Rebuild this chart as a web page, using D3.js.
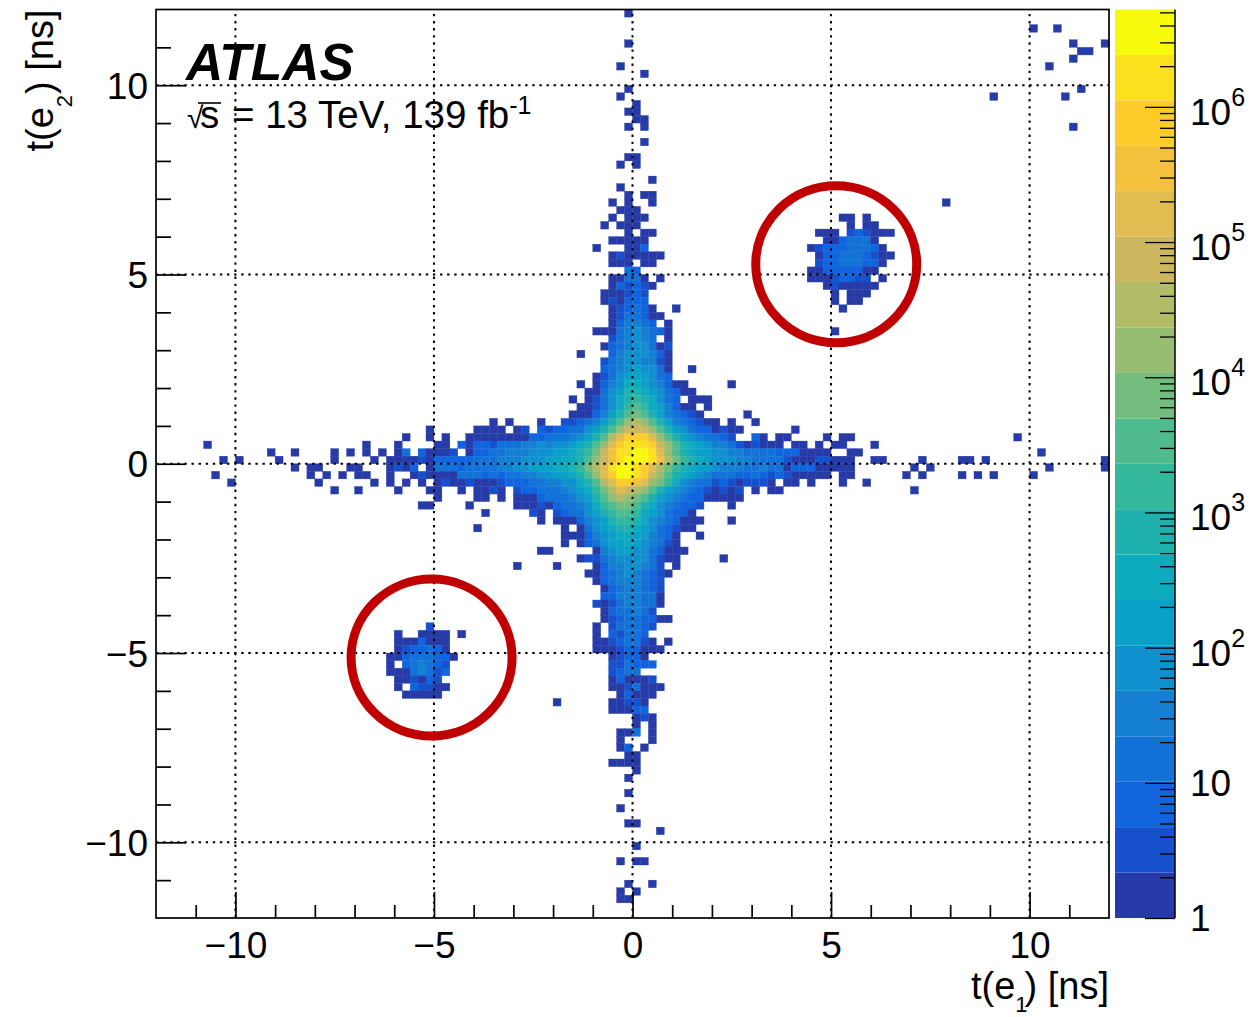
<!DOCTYPE html>
<html>
<head>
<meta charset="utf-8">
<script src="https://cdn.jsdelivr.net/npm/d3@7"></script>
<style>
  body { margin: 0; background: #fff; }
  text { font-family: "Liberation Sans", Arial, sans-serif; fill: #000; }
</style>
</head>
<body>
<svg id="chart" width="1260" height="1017"></svg>
<script>
// ROOT style colour contours, bottom band first
const bandColors = ["#273ba8", "#1650cc", "#1064de", "#1272d8", "#1580d2", "#0f91cf", "#09a1c8", "#0eabbf",
    "#1fb1ae", "#34b89c", "#51bb90", "#73bd7f", "#96bd72", "#b2bb68", "#ccb75e", "#e1bc50",
    "#f3c13c", "#fdcc2a", "#fbe01e", "#f8fa0d"];

const zMax = 5.25e6;
const majorTicks = [-10, -5, 0, 5, 10];
const minorTicks = [-11, -9, -8, -7, -6, -4, -3, -2, -1, 1, 2, 3, 4, 6, 7, 8, 9, 11];
const zDecades = [1, 10, 100, 1000, 10000, 100000, 1000000];
const zMinorFactors = [2, 3, 4, 5, 6, 7, 8, 9];
const binWidth = 0.2;

// rows of the histogram: [y bin, first x bin, band per x bin]
// bins count from t=0 in 0.2 ns steps, band is base 20, "." is an empty bin
const centreRows = [
    [18, -3, "024432.0"],
    [17, -5, "0003454320"],
    [16, -3, "134543.0"],
    [15, -4, "023455301"],
    [14, -7, "0"], [14, -3, "24555420"],
    [13, -4, "134554410"],
    [12, -4, "234565530"], [12, 7, "0"],
    [11, -5, "0135666532"],
    [10, -7, "0"], [10, -5, "024577654200"], [10, 12, "0"],
    [9, -6, "00356887653200"],
    [8, -8, "0"], [8, -6, "013578987532.000"],
    [7, -7, "0013579a9764200.0"],
    [6, -8, "0002468aba8643210"], [6, 14, "0"],
    [5, -18, "0"], [5, -16, "0"], [5, -12, "0"], [5, -9, "1123468acdca86432100.0"], [5, 15, "0"],
    [4, -26, "0"], [4, -20, "0000.01.212233568aceeeca8653220100"], [4, 20, "0"],
    [3, -29, "0"], [3, -26, "0"], [3, -24, "0"],
    [3, -21, "00000000223334568adfhhhfca86543321..20.00"], [3, 24, "0"], [3, 26, "00"],
    [2, -34, "0"], [2, -30, "0"],
    [2, -25, "00.20221333445455678acfhiiiheca8765443101000.00.0.00"], [2, 30, "0"],
    [1, -30, "03.20001.0223344455566789begiijjifca8766554433332220000..00"],
    [0, -33, "0.0000102222233344455566778acegijjjigdb9876555443333100011000"],
    [-1, -31, "0102.03332333344556667789bdfijjihfdb98766544433433022200000"],
    [-2, -28, "0100003332323344556678acfhjjiheca87654333223212100000.00"],
    [-3, -33, "0"], [-3, -31, "0"], [-3, -29, "0"],
    [-3, -27, "0.01001000122233445578adfhhgfcb97543312101110.00.0"], [-3, 26, "0"], [-3, 29, "0"],
    [-4, -30, "0"], [-4, -26, "00"], [-4, -22, "0"],
    [-4, -20, "0010.12233345679bdfedca86543210101.0.00"],
    [-5, -25, "0"], [-5, -20, "00.0"], [-5, -15, "00023334568acdcba865432200000"],
    [-6, -27, "00"], [-6, -21, "0"], [-6, -15, "000102334579abba87543221...0"],
    [-7, -19, "0"], [-7, -13, "10.12335689aa97653220"],
    [-8, -12, "0.0002456899875432000"], [-8, 12, "0"],
    [-9, -20, "0"], [-9, -9, "0.035678876532100"],
    [-10, -9, "000245677664320..0"],
    [-11, -9, "0.0235667654310"],
    [-12, -12, "00"], [-12, -5, "045665532000"],
    [-13, -7, "0113455553100"], [-13, 11, "0"],
    [-14, -15, "0"], [-14, -10, "0"], [-14, -5, "024455431.0"],
    [-15, -6, "00234543210"],
    [-16, -5, "023444321"],
    [-17, -4, "02344321"],
    [-18, -4, "22444330"]
];

const upperArmRows = [
    [59, -1, "0"], [55, -1, "0"], [52, -2, "0"], [51, 1, "0"], [49, -1, "0"], [48, -2, "0"],
    [47, 0, "0"], [46, -1, "00"], [45, 0, "00"], [44, -1, "0.0"], [42, 1, "0"],
    [40, -1, "00"], [39, -2, "0.0"], [37, 2, "0"], [36, -2, "0"],
    [35, -1, "0.00"], [34, -3, "0.0..0"], [33, -2, "000"], [32, -3, "0.000"],
    [31, -4, "0.000"], [30, -1, "0.00"], [29, -3, "00000"], [28, -5, "0...002"],
    [27, -3, "0100000"], [26, -3, "000.00"], [25, -1, "32"], [24, -3, "00330.0"],
    [23, -3, "021210"], [22, -4, "000121"], [21, -4, "010222"],
    [20, -3, "012320..0"], [19, -3, "0133200"]
];

const lowerArmRows = [
    [-19, -5, "10134433"], [-19, 3, "0"],
    [-20, -4, "0233431"],
    [-21, -4, "012332200"],
    [-22, -5, "0.133321"],
    [-23, -5, "0.21332"],
    [-24, -5, "00123310.0"],
    [-25, -5, "000122000"],
    [-26, -3, "01220"],
    [-27, -3, "113222"],
    [-28, -3, "1233"],
    [-29, -3, "020001"],
    [-30, -3, "0013000"],
    [-31, -2, "02000"],
    [-32, -10, "0"], [-32, -3, "00110"],
    [-33, -3, "00022"],
    [-34, 0, "010"],
    [-35, 0, "0.0"],
    [-36, -2, "003.0"],
    [-37, -2, "0...0"],
    [-38, -2, "02.0"],
    [-39, -1, "00"],
    [-40, -3, "0000"],
    [-41, 0, "0"],
    [-42, -1, "0"],
    [-44, -1, "0"],
    [-46, -2, "0"],
    [-48, -1, "00"],
    [-49, 3, "0"],
    [-51, 0, "0"],
    [-53, -2, "0.00"],
    [-56, -1, "0..0"],
    [-57, -2, "0.0"],
    [-58, -2, "00"]
];

const leftTailRows = [
    [2, -54, "0"],
    [1, -46, "0"], [1, -43, "0"], [1, -38, "0"], [1, -36, "0"], [1, -34, "0"], [1, -32, "0"],
    [0, -52, "0"], [0, -50, "0"], [0, -45, "0"], [0, -38, "0"],
    [-1, -43, "0"], [-1, -41, "00"], [-1, -36, "00"],
    [-2, -53, "0"], [-2, -41, "0"], [-2, -39, "0"], [-2, -37, "0"], [-2, -35, "00"], [-2, -31, "0"],
    [-3, -51, "0"], [-3, -40, "0"],
    [-4, -38, "0"], [-4, -35, "0"]
];

const rightTailRows = [
    [3, 48, "0"],
    [1, 51, "0"],
    [0, 30, "00"], [0, 36, "0"], [0, 41, "00"], [0, 44, "0"], [0, 59, "0"],
    [-1, 35, "0"], [-1, 37, "0"], [-1, 52, "0"], [-1, 59, "0"],
    [-2, 34, "0"], [-2, 36, "0"], [-2, 41, "0"], [-2, 43, "0"], [-2, 45, "0"], [-2, 50, "0"],
    [-4, 35, "0"]
];

const cornerRows = [
    [57, 50, "0"], [57, 53, "0"], [55, 55, "0"], [55, 59, "0"], [54, 56, "00"], [53, 55, "0"],
    [52, 52, "0"], [49, 56, "0"], [48, 45, "0"], [48, 54, "0"], [44, 55, "0"], [34, 39, "0"]
];

const upperBlobRows = [
    [32, 26, "00.0"],
    [31, 27, "0.00"],
    [30, 23, "000.121000"],
    [29, 24, "0023330"],
    [28, 22, "0122233320"],
    [27, 23, "0223332100"],
    [26, 23, "122333220"],
    [25, 22, "002222200"],
    [24, 22, "00012211.0"],
    [23, 24, "0100000"],
    [22, 25, "0.000"],
    [21, 25, "0.00"],
    [20, 26, "0"],
    [17, 25, "0"]
];

const lowerBlobRows = [
    [-22, -26, "1"],
    [-23, -30, "0..0000.0"],
    [-24, -30, "0002000"],
    [-25, -30, "0122320"],
    [-26, -31, "002333220"],
    [-27, -31, "0.234321"],
    [-28, -31, "00034312"],
    [-29, -30, "001021"],
    [-30, -30, "0.21100"],
    [-31, -29, "00000"]
];

const allRows = [].concat(centreRows, upperArmRows, lowerArmRows, leftTailRows, rightTailRows,
    cornerRows, upperBlobRows, lowerBlobRows);

// expand the rows into single bins
let cells = [];
allRows.forEach(function (row) {
    for (let i = 0; i < row[2].length; i++) {
        if (row[2][i] !== ".") {
            cells.push({ xBin: row[1] + i, yBin: row[0], band: parseInt(row[2][i], 20) });
        }
    }
});

const svg = d3.select("#chart");

const plot = { left: 156, right: 1109, top: 9.5, bottom: 918 };
const bar = { left: 1115, right: 1175 };

const xScale = d3.scaleLinear().domain([-12, 12]).range([plot.left, plot.right]);
const yScale = d3.scaleLinear().domain([-12, 12]).range([plot.bottom, plot.top]);
const zScale = d3.scaleLog().domain([1, zMax]).range([plot.bottom, plot.top]);

// cells, the thin stroke closes the seams between neighbours
svg.append("g").selectAll("rect")
    .data(cells)
    .enter()
    .append("rect")
    .attr("x", function (d) { return xScale(d.xBin * binWidth); })
    .attr("y", function (d) { return yScale((d.yBin + 1) * binWidth); })
    .attr("width", xScale(binWidth) - xScale(0))
    .attr("height", yScale(0) - yScale(binWidth))
    .attr("fill", function (d) { return bandColors[d.band]; })
    .attr("stroke", function (d) { return bandColors[d.band]; })
    .attr("stroke-width", 0.35);

// dotted grid
let grid = svg.append("g")
    .attr("stroke", "#000")
    .attr("stroke-width", 2)
    .attr("stroke-dasharray", "2.4 4.7");
majorTicks.forEach(function (t) {
    grid.append("line").attr("x1", xScale(t)).attr("x2", xScale(t)).attr("y1", plot.bottom).attr("y2", plot.top);
    grid.append("line").attr("x1", plot.left).attr("x2", plot.right).attr("y1", yScale(t)).attr("y2", yScale(t));
});

// axes
function styleAxis(g) {
    g.select(".domain").remove();
    g.selectAll("line").attr("stroke", "#000").attr("stroke-width", 1.7);
    g.selectAll("text").style("font-size", "37px").attr("fill", "#000");
}

const signed = function (d) { return d < 0 ? "\u2212" + Math.abs(d) : String(d); };

svg.append("g").attr("transform", "translate(0," + plot.bottom + ")")
    .call(d3.axisBottom(xScale).tickValues(minorTicks).tickSize(-13).tickFormat(""))
    .call(styleAxis);
svg.append("g").attr("transform", "translate(0," + plot.bottom + ")")
    .call(d3.axisBottom(xScale).tickValues(majorTicks).tickSize(-26).tickFormat(signed))
    .call(styleAxis)
    .selectAll("text").attr("y", 40).attr("dy", 0);
svg.append("g").attr("transform", "translate(" + plot.left + ",0)")
    .call(d3.axisRight(yScale).tickValues(minorTicks).tickSize(15).tickFormat(""))
    .call(styleAxis);
svg.append("g").attr("transform", "translate(" + plot.left + ",0)")
    .call(d3.axisRight(yScale).tickValues(majorTicks).tickSize(30).tickFormat(signed))
    .call(styleAxis)
    .selectAll("text").attr("x", -8).attr("text-anchor", "end").attr("dy", 13);

svg.append("rect")
    .attr("x", plot.left).attr("y", plot.top)
    .attr("width", plot.right - plot.left).attr("height", plot.bottom - plot.top)
    .attr("fill", "none").attr("stroke", "#000").attr("stroke-width", 1.7);

// colour bar
const bandEdge = function (i) { return Math.pow(zMax, i / bandColors.length); };
svg.append("g").selectAll("rect")
    .data(bandColors)
    .enter()
    .append("rect")
    .attr("x", bar.left)
    .attr("width", bar.right - bar.left)
    .attr("y", function (d, i) { return zScale(bandEdge(i + 1)); })
    .attr("height", function (d, i) { return zScale(bandEdge(i)) - zScale(bandEdge(i + 1)); })
    .attr("fill", function (d) { return d; });

let zMinor = [];
zDecades.forEach(function (dec) {
    zMinorFactors.forEach(function (f) {
        if (dec * f < zMax) {
            zMinor.push(dec * f);
        }
    });
});

svg.append("g").attr("transform", "translate(" + bar.right + ",0)")
    .call(d3.axisLeft(zScale).tickValues(zMinor).tickSize(15).tickFormat(""))
    .call(styleAxis)
    .selectAll("line").attr("stroke-width", 1.3);
svg.append("g").attr("transform", "translate(" + bar.right + ",0)")
    .call(d3.axisLeft(zScale).tickValues(zDecades).tickSize(30).tickFormat(""))
    .call(styleAxis)
    .selectAll("line").attr("stroke-width", 1.3);
svg.append("line")
    .attr("x1", bar.right).attr("x2", bar.right).attr("y1", plot.top).attr("y2", plot.bottom)
    .attr("stroke", "#000").attr("stroke-width", 1.5);

zDecades.forEach(function (dec) {
    let power = Math.round(Math.log10(dec));
    let label = svg.append("text")
        .attr("x", 1190).style("font-size", "37px");
    if (power < 2) {
        label.attr("y", zScale(dec) + 13).text(dec);
    } else {
        label.attr("y", zScale(dec) + 18);
        label.append("tspan").text("10");
        label.append("tspan").attr("dy", -19).style("font-size", "25px").text(power);
    }
});

// axis titles
let xTitle = svg.append("text")
    .attr("x", plot.right).attr("y", 999).attr("text-anchor", "end").style("font-size", "38px");
xTitle.append("tspan").text("t(e");
xTitle.append("tspan").attr("dy", 13).style("font-size", "22px").text("1");
xTitle.append("tspan").attr("dy", -13).attr("dx", -3).text(") [ns]");

let yTitle = svg.append("text")
    .attr("transform", "translate(53," + plot.top + ") rotate(-90)")
    .attr("text-anchor", "end").style("font-size", "38px");
yTitle.append("tspan").text("t(e");
yTitle.append("tspan").attr("dy", 19).style("font-size", "22px").text("2");
yTitle.append("tspan").attr("dy", -19).attr("dx", 1).text(") [ns]");

// annotations
svg.append("text")
    .attr("x", 186).attr("y", 80)
    .style("font-size", "51.5px").style("font-weight", "bold").style("font-style", "italic")
    .text("ATLAS");

let lumi = svg.append("text").attr("x", 187).attr("y", 128).style("font-size", "38.5px");
lumi.append("tspan").style("font-size", "30px").text("\u221A");
lumi.append("tspan").attr("x", 200).text("s");
lumi.append("tspan").attr("x", 232).text("= 13 TeV, 139 fb");
lumi.append("tspan").attr("dy", -14).style("font-size", "25px").text("-1");
svg.append("line")
    .attr("x1", 198).attr("x2", 221).attr("y1", 103).attr("y2", 103)
    .attr("stroke", "#000").attr("stroke-width", 1.6);

// red rings round the two satellite blobs
const rings = [[5.13, 5.27], [-5.06, -5.12]];
svg.append("g").selectAll("ellipse")
    .data(rings)
    .enter()
    .append("ellipse")
    .attr("cx", function (d) { return xScale(d[0]); })
    .attr("cy", function (d) { return yScale(d[1]); })
    .attr("rx", 80.5)
    .attr("ry", 78.5)
    .attr("fill", "none")
    .attr("stroke", "#c00000")
    .attr("stroke-width", 9);
</script>
</body>
</html>
